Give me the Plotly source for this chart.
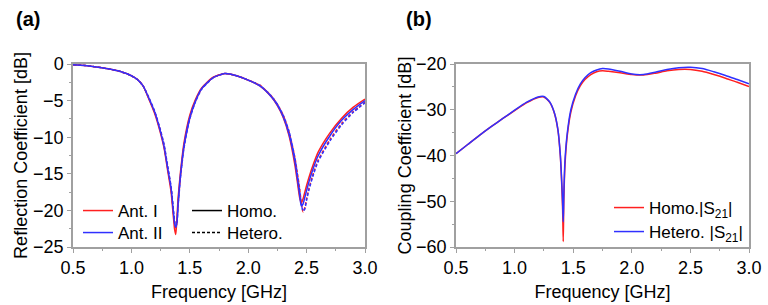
import plotly.graph_objects as go

# ---------------- Panel (a): reflection coefficient ----------------
freq_a = [0.5, 0.6, 0.7, 0.8, 0.9, 1.0, 1.05, 1.1, 1.15, 1.2, 1.25, 1.28, 1.31, 1.34, 1.36, 1.37, 1.38,
          1.39, 1.40, 1.42, 1.45, 1.5, 1.55, 1.6, 1.7, 1.8, 1.9, 2.0, 2.1, 2.2, 2.25, 2.3, 2.35,
          2.40, 2.42, 2.44, 2.455, 2.47, 2.485, 2.50, 2.52, 2.56, 2.6, 2.7, 2.8, 2.9, 3.0]

ant1_homo = [-0.1, -0.2, -0.4, -0.65, -1.0, -1.6, -2.1, -3.0, -4.8, -6.8, -9.5, -11.5, -14.5, -17.5, -21.0, -22.6, -23.3,
             -21.0, -18.3, -14.8, -10.8, -7.0, -4.8, -3.3, -1.8, -1.3, -1.6, -2.2, -3.0, -4.5, -5.7, -7.3, -9.8,
             -13.8, -16.0, -18.2, -19.0, -18.4, -17.5, -16.6, -15.5, -13.6, -12.0, -9.4, -7.4, -5.9, -4.8]
ant2_homo = [-0.1, -0.2, -0.4, -0.65, -1.0, -1.6, -2.1, -3.0, -4.7, -6.6, -9.3, -11.3, -14.2, -17.0, -20.3, -21.8, -22.3,
             -21.6, -19.0, -15.2, -11.2, -7.3, -5.0, -3.4, -1.85, -1.3, -1.6, -2.2, -3.0, -4.5, -5.6, -7.2, -9.6,
             -13.3, -15.5, -17.8, -19.4, -19.1, -18.2, -17.3, -16.1, -14.1, -12.5, -9.8, -7.7, -6.2, -5.0]
ant1_hetero = [-0.1, -0.2, -0.4, -0.65, -1.0, -1.6, -2.1, -3.0, -4.7, -6.6, -9.2, -11.2, -14.1, -17.0, -20.3, -21.6, -22.4,
               -21.5, -19.2, -15.4, -11.3, -7.4, -5.0, -3.4, -1.85, -1.3, -1.6, -2.2, -2.9, -4.4, -5.5, -7.0, -9.3,
               -12.8, -14.8, -17.0, -19.0, -20.2, -19.6, -18.4, -17.0, -14.8, -13.1, -10.3, -8.1, -6.5, -5.2]
ant2_hetero = [-0.1, -0.2, -0.4, -0.65, -1.0, -1.6, -2.1, -3.0, -4.6, -6.5, -9.1, -11.0, -13.9, -16.8, -20.0, -21.5, -22.2,
               -21.8, -19.4, -15.6, -11.5, -7.5, -5.1, -3.5, -1.9, -1.3, -1.6, -2.2, -2.9, -4.4, -5.5, -7.0, -9.2,
               -12.9, -15.0, -17.2, -19.2, -20.1, -19.8, -18.6, -17.2, -15.0, -13.3, -10.5, -8.3, -6.6, -5.3]

# ---------------- Panel (b): coupling coefficient ----------------
freq_b = [0.5, 0.6, 0.7, 0.8, 0.9, 1.0, 1.1, 1.2, 1.25, 1.3, 1.34, 1.37, 1.39, 1.40, 1.41, 1.415, 1.42, 1.43,
          1.45, 1.48, 1.52, 1.56, 1.6, 1.65, 1.7, 1.75, 1.8, 1.9, 2.0, 2.1, 2.2, 2.3, 2.4, 2.5, 2.6, 2.7,
          2.8, 2.9, 3.0]
s21_homo = [-39.6, -37.6, -35.6, -33.7, -31.9, -30.2, -28.5, -27.3, -27.2, -28.4, -30.8, -34.5, -40.0, -45.0, -52.0, -58.8,
            -50.0, -42.0, -35.5, -30.5, -27.0, -24.8, -23.4, -22.3, -21.7, -21.5, -21.6, -21.9, -22.3, -22.4, -22.0,
            -21.5, -21.2, -21.2, -21.6, -22.3, -23.1, -24.0, -24.9]
s21_hetero = [-39.6, -37.6, -35.6, -33.7, -31.9, -30.1, -28.4, -27.2, -27.1, -28.3, -30.7, -34.4, -39.8, -44.5, -50.5, -54.5,
              -48.5, -41.0, -35.0, -30.0, -26.6, -24.4, -23.0, -21.9, -21.3, -21.0, -21.1, -21.6, -22.2, -22.3, -21.8,
              -21.2, -20.8, -20.7, -21.0, -21.7, -22.5, -23.4, -24.3]

RED = "#ff2020"
BLUE = "#3030ff"
FONT = "Liberation Sans, Arial, sans-serif"
FS = 18

fig = go.Figure()

line_kw = dict(shape="spline", smoothing=0.6, width=1.5)
DASH = "3px,2px"

fig.add_trace(go.Scatter(x=freq_a, y=ant1_hetero, mode="lines", line=dict(color=RED, dash=DASH, **line_kw),
                         showlegend=False, xaxis="x", yaxis="y"))
fig.add_trace(go.Scatter(x=freq_a, y=ant2_hetero, mode="lines", line=dict(color=BLUE, dash=DASH, **line_kw),
                         showlegend=False, xaxis="x", yaxis="y"))
fig.add_trace(go.Scatter(x=freq_a, y=ant1_homo, mode="lines", line=dict(color=RED, **line_kw),
                         name="Ant. I", legend="legend", xaxis="x", yaxis="y"))
fig.add_trace(go.Scatter(x=freq_a, y=ant2_homo, mode="lines", line=dict(color=BLUE, **line_kw),
                         name="Ant. II", legend="legend2", xaxis="x", yaxis="y"))
# style-only legend entries
fig.add_trace(go.Scatter(x=[None], y=[None], mode="lines", line=dict(color="black", width=1.5),
                         name="Homo.", legend="legend3", xaxis="x", yaxis="y"))
fig.add_trace(go.Scatter(x=[None], y=[None], mode="lines", line=dict(color="black", width=1.5, dash=DASH),
                         name="Hetero.", legend="legend4", xaxis="x", yaxis="y"))

fig.add_trace(go.Scatter(x=freq_b, y=s21_homo, mode="lines", line=dict(color=RED, **line_kw),
                         name="Homo.|S<sub>21</sub>|", legend="legend5", xaxis="x2", yaxis="y2"))
fig.add_trace(go.Scatter(x=freq_b, y=s21_hetero, mode="lines", line=dict(color=BLUE, **line_kw),
                         name="Hetero. |S<sub>21</sub>|", legend="legend6", xaxis="x2", yaxis="y2"))

GREY = "#a0a0a0"
axis_common = dict(showline=True, linecolor=GREY, linewidth=1.5, mirror=True, ticks="outside", ticklen=4,
                   tickcolor=GREY, tickwidth=1, showgrid=False, zeroline=False, automargin=False,
                   tickfont=dict(family=FONT, size=FS, color="black"),
                   title_font=dict(family=FONT, size=FS, color="black"))
xticks = [0.5, 1.0, 1.5, 2.0, 2.5, 3.0]
xticktext = ["0.5", "1.0", "1.5", "2.0", "2.5", "3.0"]


def leg(xpx, ypx):
    return dict(x=xpx / 768, y=(305 - ypx) / 305, xref="paper", yref="paper", xanchor="left", yanchor="middle",
                bgcolor="rgba(0,0,0,0)", borderwidth=0, font=dict(family=FONT, size=17, color="black"),
                itemwidth=30, tracegroupgap=0)


fig.update_layout(
    width=768, height=305, margin=dict(l=0, r=0, t=0, b=0, autoexpand=False),
    paper_bgcolor="white", plot_bgcolor="white",
    font=dict(family=FONT, size=FS, color="black"),
    xaxis=dict(domain=[73 / 768, 365 / 768], range=[0.5, 3.0], tickvals=xticks, ticktext=xticktext, anchor="y",
               minor=dict(dtick=0.25, ticklen=2, tickcolor=GREY, ticks="outside"),
               title=dict(text="Frequency [GHz]", standoff=8), **axis_common),
    yaxis=dict(domain=[58 / 305, 241 / 305], range=[-25, 0], dtick=5, anchor="x",
               minor=dict(dtick=2.5, ticklen=2, tickcolor=GREY, ticks="outside"),
               title=dict(text="Reflection Coefficient [dB]", standoff=1), **axis_common),
    xaxis2=dict(domain=[456 / 768, 749 / 768], range=[0.5, 3.0], tickvals=xticks, ticktext=xticktext, anchor="y2",
                minor=dict(dtick=0.25, ticklen=2, tickcolor=GREY, ticks="outside"),
                title=dict(text="Frequency [GHz]", standoff=8), **axis_common),
    yaxis2=dict(domain=[58 / 305, 241 / 305], range=[-60, -20], dtick=10, anchor="x2",
                minor=dict(dtick=5, ticklen=2, tickcolor=GREY, ticks="outside"),
                title=dict(text="Coupling Coefficient [dB]", standoff=0), **axis_common),
    legend=leg(78, 211),
    legend2=leg(78, 233),
    legend3=leg(187, 211),
    legend4=leg(187, 233),
    legend5=leg(609, 208),
    legend6=leg(609, 232),
    annotations=[
        dict(text="<b>(a)</b>", x=14 / 768, y=(305 - 19) / 305, xref="paper", yref="paper", xanchor="left",
             yanchor="middle", showarrow=False, font=dict(family=FONT, size=20, color="black")),
        dict(text="<b>(b)</b>", x=404 / 768, y=(305 - 19) / 305, xref="paper", yref="paper", xanchor="left",
             yanchor="middle", showarrow=False, font=dict(family=FONT, size=20, color="black")),
    ],
)

fig.write_html("out.html")
